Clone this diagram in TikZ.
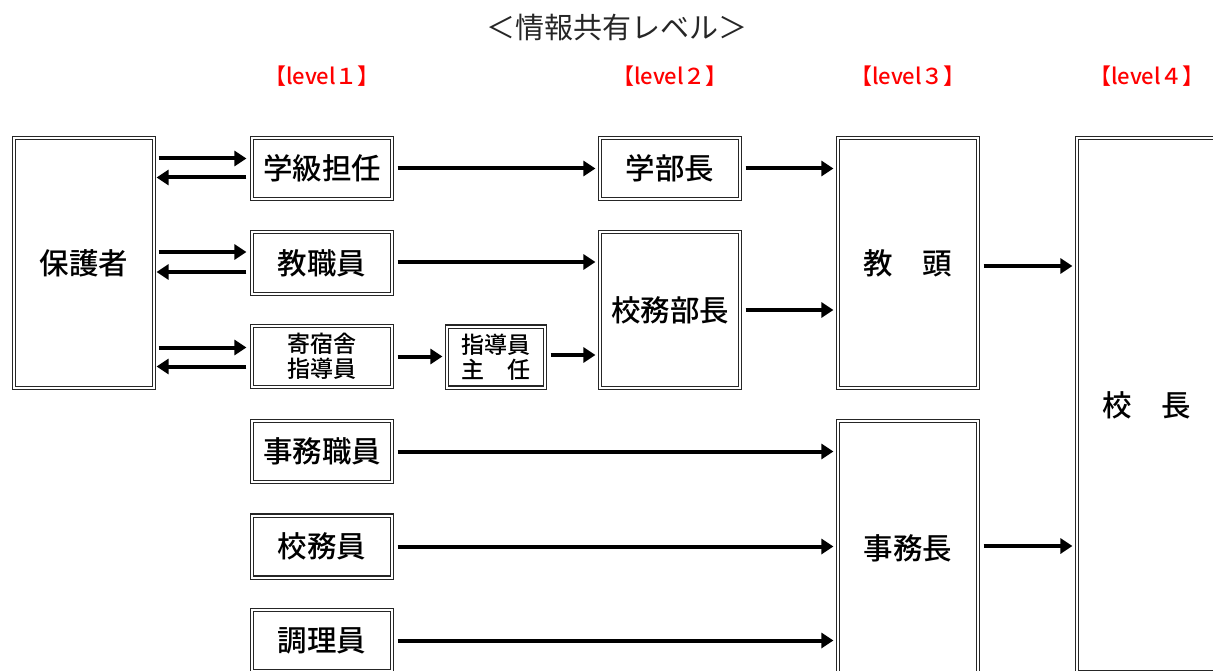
\documentclass[tikz,border=0pt]{standalone}
\usepackage{fontspec}
\setmainfont{Noto Sans CJK JP}
\newfontfamily\jpm{Noto Sans CJK JP Medium}
\usetikzlibrary{arrows.meta,calc}
\begin{document}
\begin{tikzpicture}[x=1pt,y=-1pt,
  box/.style={draw=black!85, line width=1.1pt, double=white, double distance=2pt,
    rectangle, inner sep=0pt, font=\jpm\fontsize{29.5}{32}\selectfont},
  small/.style={font=\jpm\fontsize{23}{25}\selectfont, align=center},
  arr/.style={line width=4pt, -{Triangle[length=12pt,width=15pt]}},
  lvl/.style={text=red, font=\jpm\fontsize{22}{24}\selectfont},
  ttl/.style={text=black!85, font=\fontsize{29}{32}\selectfont},
]
\useasboundingbox (0,0) rectangle (1213,671);
\clip (0,0) rectangle (1213,671);

% title and level labels
\node[ttl] (title) at (617,28) {＜情報共有レベル＞};
\node[lvl] (l1) at (322,76) {【level１】};
\node[lvl] (l2) at (670,76) {【level２】};
\node[lvl] (l3) at (908,76) {【level３】};
\node[lvl] (l4) at (1147,76) {【level４】};

% boxes
\node[box, minimum width=140, minimum height=250] (hogo) at (84,263) {保護者};
\node[box, minimum width=140, minimum height=61] (gakkyu) at (322,168.5) {学級担任};
\node[box, minimum width=140, minimum height=62] (kyoshoku) at (322,263) {教職員};
\node[box, small, minimum width=140, minimum height=61] (kishuku) at (322,356.5) {寄宿舎\\指導員};
\node[box, small, minimum width=98, minimum height=61] (shunin) at (496,357) {指導員\\主　任};
\node[box, minimum width=140, minimum height=61] (gakubu) at (670,168.5) {学部長};
\node[box, minimum width=140, minimum height=156] (koumubu) at (670,310) {校務部長};
\node[box, minimum width=140, minimum height=250] (kyoto) at (908,263) {教　頭};
\node[box, minimum width=140, minimum height=61] (jimushoku) at (322,451.5) {事務職員};
\node[box, minimum width=140, minimum height=62] (koumuin) at (322,546.5) {校務員};
\node[box, minimum width=140, minimum height=61] (chori) at (322,640.5) {調理員};
\node[box, minimum width=140, minimum height=254] (jimucho) at (908,548) {事務長};
\node[box, minimum width=140, minimum height=534] (kocho) at (1147,405) {校　長};

% guardian <-> level1
\draw[arr] ($(hogo.east|-gakkyu)+(4,-10)$) -- ($(gakkyu.west)+(-5,-10)$);
\draw[arr] ($(gakkyu.west)+(-5,9)$) -- ($(hogo.east|-gakkyu)+(2,9)$);
\draw[arr] ($(hogo.east|-kyoshoku)+(4,-11)$) -- ($(kyoshoku.west)+(-5,-11)$);
\draw[arr] ($(kyoshoku.west)+(-5,9)$) -- ($(hogo.east|-kyoshoku)+(2,9)$);
\draw[arr] ($(hogo.east|-kishuku)+(4,-9)$) -- ($(kishuku.west)+(-5,-9)$);
\draw[arr] ($(kishuku.west)+(-5,10)$) -- ($(hogo.east|-kishuku)+(2,10)$);

% level1 -> level2
\draw[arr] ($(gakkyu.east)+(5,0)$) -- ($(gakubu.west)+(-4,0)$);
\draw[arr] ($(kyoshoku.east)+(5,-1)$) -- ($(koumubu.west|-kyoshoku)+(-4,-1)$);
\draw[arr] ($(kishuku.east)+(5,0)$) -- ($(shunin.west|-kishuku)+(-4,0)$);
\draw[arr] ($(shunin.east)+(5,-2)$) -- ($(koumubu.west|-shunin)+(-4,-2)$);

% level2 -> level3
\draw[arr] ($(gakubu.east)+(5,0)$) -- ($(kyoto.west|-gakubu)+(-4,0)$);
\draw[arr] ($(koumubu.east)+(5,0)$) -- ($(kyoto.west|-koumubu)+(-4,0)$);
\draw[arr] ($(jimushoku.east)+(5,0)$) -- ($(jimucho.west|-jimushoku)+(-4,0)$);
\draw[arr] ($(koumuin.east)+(5,0)$) -- ($(jimucho.west|-koumuin)+(-4,0)$);
\draw[arr] ($(chori.east)+(5,0)$) -- ($(jimucho.west|-chori)+(-4,0)$);

% level3 -> level4
\draw[arr] ($(kyoto.east)+(5,3)$) -- ($(kocho.west|-kyoto)+(-4,3)$);
\draw[arr] ($(jimucho.east)+(5,-2)$) -- ($(kocho.west|-jimucho)+(-4,-2)$);
\end{tikzpicture}
\end{document}
